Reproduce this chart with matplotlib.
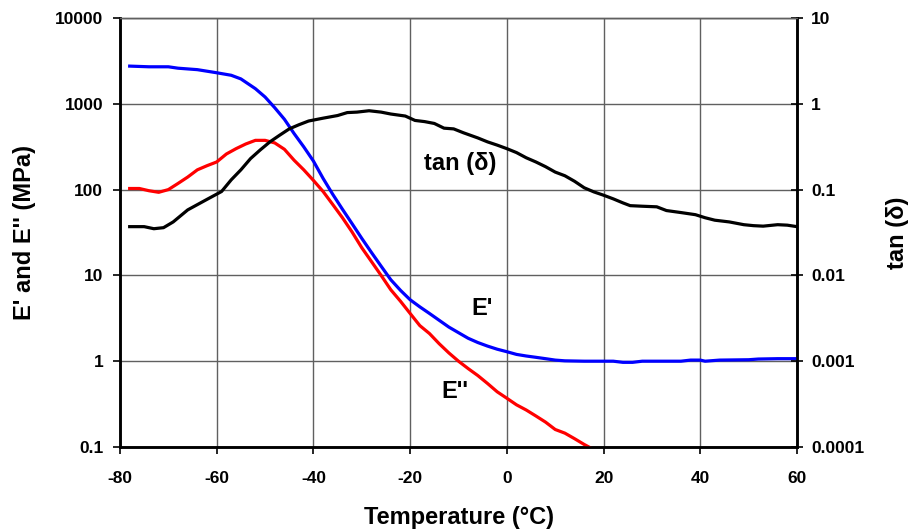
import matplotlib
matplotlib.use("Agg")
import matplotlib.pyplot as plt
from matplotlib.ticker import FixedLocator, FixedFormatter, NullLocator

plt.rcParams['font.family'] = ['Liberation Sans', 'DejaVu Sans']
plt.rcParams['font.weight'] = 'bold'

# Storage modulus E' (MPa)
temp_e1 = [-78, -74, -70, -68, -64, -60, -57, -55, -52, -50, -48, -46, -44, -42, -40,
           -38, -36, -34, -32, -30, -28, -26, -24, -22, -20, -18, -16, -14, -12, -10,
           -8, -6, -4, -2, 0, 2, 4, 6, 8, 10, 12, 16, 20, 22, 24, 26, 28, 30, 34,
           36, 38, 40, 41, 44, 50, 52, 56, 60]
e_storage = [2750, 2700, 2700, 2600, 2500, 2300, 2150, 1950, 1500, 1200, 900, 660, 450, 315, 215,
             135, 88, 59, 40, 27, 18.5, 12.8, 8.9, 6.7, 5.2, 4.3, 3.6, 3.0, 2.5, 2.15,
             1.85, 1.65, 1.5, 1.38, 1.29, 1.2, 1.15, 1.11, 1.07, 1.03, 1.01, 1.0, 1.0, 1.0, 0.97, 0.97, 1.0, 1.0, 1.0,
             1.0, 1.03, 1.03, 1.0, 1.03, 1.04, 1.06, 1.07, 1.07]

# Loss modulus E'' (MPa)
temp_e2 = [-78, -76, -74, -72, -70, -68, -66, -64, -62, -60, -58, -56, -54, -52, -50,
           -48, -46, -44, -42, -40, -38, -36, -34, -32, -30, -28, -26, -24, -22, -20,
           -18, -16, -14, -12, -10, -8, -6, -4, -2, 0, 2, 4, 6, 8, 10, 12, 14, 16, 18]
e_loss = [103, 103, 97, 93, 100, 118, 140, 170, 190, 210, 260, 300, 340, 375, 375,
          350, 295, 220, 170, 128, 95, 67, 47, 32, 21, 14.5, 10, 6.8, 5.0, 3.6,
          2.6, 2.1, 1.6, 1.25, 1.0, 0.82, 0.68, 0.55, 0.44, 0.37, 0.31, 0.27, 0.23, 0.195, 0.16, 0.145, 0.125, 0.107, 0.093]

# Loss factor tan(delta)
temp_tan = [-78, -75, -73, -71, -69, -66, -62, -59, -57, -55, -53, -51, -49, -47, -45,
            -43, -41, -38, -35, -33, -31, -28.5, -26, -24, -21, -19, -17, -15, -13, -11,
            -9, -6, -4, -2, 0, 2, 4, 6, 8, 10, 12, 14, 16, 18, 20, 22, 24, 25.5, 28,
            31, 33, 36, 39, 41, 43, 46, 49, 51, 53, 56, 58, 60]
tan_delta = [0.037, 0.037, 0.035, 0.036, 0.042, 0.058, 0.077, 0.095, 0.13, 0.17, 0.23, 0.29, 0.36, 0.43, 0.51,
             0.57, 0.63, 0.68, 0.73, 0.79, 0.80, 0.83, 0.80, 0.76, 0.72, 0.64, 0.62, 0.59, 0.52, 0.51,
             0.46, 0.40, 0.36, 0.33, 0.30, 0.27, 0.235, 0.21, 0.185, 0.16, 0.145, 0.125, 0.105, 0.094, 0.086, 0.078, 0.070, 0.065, 0.064,
             0.063, 0.057, 0.054, 0.051, 0.047, 0.044, 0.042, 0.039, 0.038, 0.0375, 0.039, 0.0385, 0.037]

x_ticks = [-80, -60, -40, -20, 0, 20, 40, 60]
left_ticks = [0.1, 1, 10, 100, 1000, 10000]
left_labels = ['0.1', '1', '10', '100', '1000', '10000']
right_ticks = [0.0001, 0.001, 0.01, 0.1, 1, 10]
right_labels = ['0.0001', '0.001', '0.01', '0.1', '1', '10']

fig = plt.figure(figsize=(9.1, 5.29), dpi=100)
ax = fig.add_axes([120/910, 1-447/529, 677/910, 429/529])
ax2 = ax.twinx()

ax.set_yscale('log')
ax2.set_yscale('log')
ax.set_xlim(-80, 60)
ax.set_ylim(0.1, 10000)
ax2.set_ylim(0.0001, 10)

ax.plot(temp_e1, e_storage, color='#0000ff', lw=2.3, zorder=3)
ax.plot(temp_e2, e_loss, color='#ff0000', lw=2.3, zorder=3)
ax2.plot(temp_tan, tan_delta, color='#000000', lw=2.3, zorder=3)

ax.xaxis.set_major_locator(FixedLocator(x_ticks))
ax.xaxis.set_minor_locator(NullLocator())
ax.yaxis.set_major_locator(FixedLocator(left_ticks))
ax.yaxis.set_major_formatter(FixedFormatter(left_labels))
ax.yaxis.set_minor_locator(NullLocator())
ax2.yaxis.set_major_locator(FixedLocator(right_ticks))
ax2.yaxis.set_major_formatter(FixedFormatter(right_labels))
ax2.yaxis.set_minor_locator(NullLocator())
ax.set_xticklabels([str(v) for v in x_ticks])

ax.grid(True, which='major', color='#606060', lw=1.0, zorder=0)

ax.tick_params(axis='x', direction='out', length=5, width=1.2, pad=12, labelsize=12.5)
ax.tick_params(axis='y', direction='out', length=5, width=1.2, pad=7, labelsize=12.5)
ax2.tick_params(axis='y', direction='inout', length=8, width=1.2, pad=6, labelsize=12.5)

for a in (ax, ax2):
    for s in ('left', 'right', 'bottom'):
        a.spines[s].set_color('black')
        a.spines[s].set_linewidth(1.8)
    a.spines['top'].set_color('#606060')
    a.spines['top'].set_linewidth(1.0)

ax.set_xlabel('Temperature (°C)', fontsize=17, fontweight='bold', labelpad=15)
ax.set_ylabel("E' and E'' (MPa)", fontsize=17, fontweight='bold', labelpad=14)
ax2.set_ylabel('tan (δ)', fontsize=17, fontweight='bold', labelpad=16)

ax.text(-9.7, 204, 'tan (δ)', fontsize=17, fontweight='bold', ha='center', va='center', zorder=4)
ax.text(-5.2, 4.14, "E'", fontsize=17, fontweight='bold', ha='center', va='center', zorder=4)
ax.text(-10.7, 0.44, "E''", fontsize=17, fontweight='bold', ha='center', va='center', zorder=4)

fig.savefig('out.png', dpi=100)
